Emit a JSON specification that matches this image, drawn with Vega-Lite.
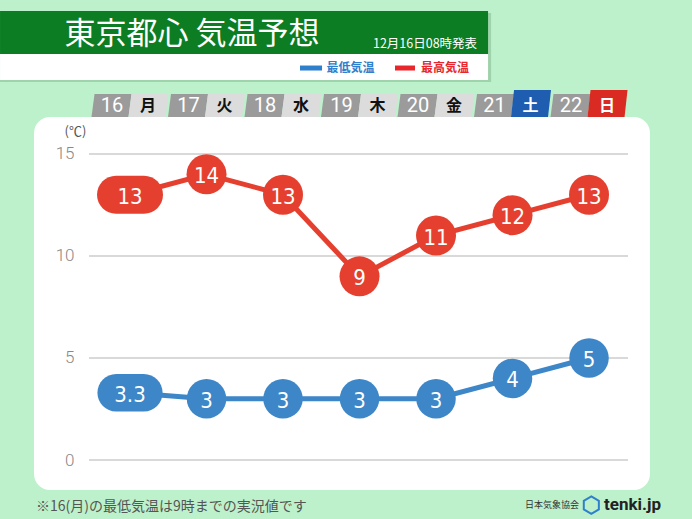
{
  "$schema": "https://vega.github.io/schema/vega-lite/v6.json",
  "width": 616,
  "height": 373,
  "autosize": {"type": "none"},
  "padding": {"left": 34, "top": 117, "right": 42, "bottom": 29},
  "background": "#bdf1cb",
  "config": {"view": {"fill": "white", "stroke": null, "cornerRadius": 16}},
  "resolve": {"axis": {"x": "independent", "y": "independent"}},
  "data": {"values": [
    {"day": 16, "wd": "月", "lo": 3.3, "hi": 13},
    {"day": 17, "wd": "火", "lo": 3, "hi": 14},
    {"day": 18, "wd": "水", "lo": 3, "hi": 13},
    {"day": 19, "wd": "木", "lo": 3, "hi": 9},
    {"day": 20, "wd": "金", "lo": 3, "hi": 11},
    {"day": 21, "wd": "土", "lo": 4, "hi": 12},
    {"day": 22, "wd": "日", "lo": 5, "hi": 13}
  ]},
  "layer": [
    {
      "data": {"values": [{}]},
      "mark": {"type": "rect", "color": "#9fd3ab"},
      "encoding": {
        "x": {"datum": 14.301, "type": "quantitative", "scale": {"domain": [14.745, 22.797], "nice": false, "zero": false}, "axis": null},
        "x2": {"datum": 20.72},
        "y": {"datum": 21.908, "type": "quantitative", "scale": {"domain": [-1.47, 16.81], "nice": false, "zero": false}, "axis": null},
        "y2": {"datum": 18.526}
      }
    },
    {
      "data": {"values": [{}]},
      "mark": {"type": "rect", "color": "#0c7d22"},
      "encoding": {
        "x": {"datum": 14.301, "type": "quantitative", "scale": {"domain": [14.745, 22.797], "nice": false, "zero": false}, "axis": null},
        "x2": {"datum": 20.68},
        "y": {"datum": 22.006, "type": "quantitative", "scale": {"domain": [-1.47, 16.81], "nice": false, "zero": false}, "axis": null},
        "y2": {"datum": 19.898}
      }
    },
    {
      "data": {"values": [{}]},
      "mark": {"type": "rect", "color": "#ffffff"},
      "encoding": {
        "x": {"datum": 14.301, "type": "quantitative", "scale": {"domain": [14.745, 22.797], "nice": false, "zero": false}, "axis": null},
        "x2": {"datum": 20.68},
        "y": {"datum": 19.898, "type": "quantitative", "scale": {"domain": [-1.47, 16.81], "nice": false, "zero": false}, "axis": null},
        "y2": {"datum": 18.624}
      }
    },
    {
      "data": {"values": [{}]},
      "mark": {"type": "text", "text": "東京都心 気温予想", "color": "#ffffff", "font": "Noto Sans CJK JP", "fontSize": 31, "fontWeight": "normal", "align": "center", "baseline": "middle"},
      "encoding": {
        "x": {"datum": 16.81, "type": "quantitative", "scale": {"domain": [14.745, 22.797], "nice": false, "zero": false}, "axis": null},
        "y": {"datum": 20.83, "type": "quantitative", "scale": {"domain": [-1.47, 16.81], "nice": false, "zero": false}, "axis": null}
      }
    },
    {
      "data": {"values": [{}]},
      "mark": {"type": "text", "text": "12月16日08時発表", "color": "#ffffff", "font": "Noto Sans CJK JP", "fontSize": 12.5, "align": "center", "baseline": "middle"},
      "encoding": {
        "x": {"datum": 19.856, "type": "quantitative", "scale": {"domain": [14.745, 22.797], "nice": false, "zero": false}, "axis": null},
        "y": {"datum": 20.39, "type": "quantitative", "scale": {"domain": [-1.47, 16.81], "nice": false, "zero": false}, "axis": null}
      }
    },
    {
      "data": {"values": [{}]},
      "mark": {"type": "rule", "color": "#2f80cc", "strokeWidth": 5},
      "encoding": {
        "x": {"datum": 18.222, "type": "quantitative", "scale": {"domain": [14.745, 22.797], "nice": false, "zero": false}, "axis": null},
        "x2": {"datum": 18.51},
        "y": {"datum": 19.21, "type": "quantitative", "scale": {"domain": [-1.47, 16.81], "nice": false, "zero": false}, "axis": null}
      }
    },
    {
      "data": {"values": [{}]},
      "mark": {"type": "rule", "color": "#e8262c", "strokeWidth": 5},
      "encoding": {
        "x": {"datum": 19.464, "type": "quantitative", "scale": {"domain": [14.745, 22.797], "nice": false, "zero": false}, "axis": null},
        "x2": {"datum": 19.725},
        "y": {"datum": 19.21, "type": "quantitative", "scale": {"domain": [-1.47, 16.81], "nice": false, "zero": false}, "axis": null}
      }
    },
    {
      "data": {"values": [{}]},
      "mark": {"type": "text", "text": "最低気温", "color": "#2f80cc", "font": "Noto Sans CJK JP", "fontSize": 12, "fontWeight": "bold", "align": "center", "baseline": "middle"},
      "encoding": {
        "x": {"datum": 18.882, "type": "quantitative", "scale": {"domain": [14.745, 22.797], "nice": false, "zero": false}, "axis": null},
        "y": {"datum": 19.21, "type": "quantitative", "scale": {"domain": [-1.47, 16.81], "nice": false, "zero": false}, "axis": null}
      }
    },
    {
      "data": {"values": [{}]},
      "mark": {"type": "text", "text": "最高気温", "color": "#e8262c", "font": "Noto Sans CJK JP", "fontSize": 12, "fontWeight": "bold", "align": "center", "baseline": "middle"},
      "encoding": {
        "x": {"datum": 20.118, "type": "quantitative", "scale": {"domain": [14.745, 22.797], "nice": false, "zero": false}, "axis": null},
        "y": {"datum": 19.21, "type": "quantitative", "scale": {"domain": [-1.47, 16.81], "nice": false, "zero": false}, "axis": null}
      }
    },
    {
      "mark": {"type": "point", "filled": true, "opacity": 1, "size": 1600, "color": "#9b9b9b", "xOffset": -18.5, "shape": "M-0.85 -0.575 L1 -0.575 L0.85 0.575 L-1 0.575 Z"},
      "encoding": {
        "x": {"field": "day", "type": "quantitative", "scale": {"domain": [14.745, 22.797], "nice": false, "zero": false}, "axis": null},
        "y": {"datum": 17.374, "type": "quantitative", "scale": {"domain": [-1.47, 16.81], "nice": false, "zero": false}, "axis": null}
      }
    },
    {
      "mark": {"type": "point", "filled": true, "opacity": 1, "size": 1600, "xOffset": 18.5},
      "encoding": {
        "x": {"field": "day", "type": "quantitative", "scale": {"domain": [14.745, 22.797], "nice": false, "zero": false}, "axis": null},
        "y": {"datum": 17.374, "type": "quantitative", "scale": {"domain": [-1.47, 16.81], "nice": false, "zero": false}, "axis": null},
        "color": {"condition": [{"test": "datum.wd === '土'", "value": "#1f5db0"}, {"test": "datum.wd === '日'", "value": "#d92b22"}], "value": "#dcdcdc"},
        "shape": {"condition": {"test": "datum.wd === '土' || datum.wd === '日'", "value": "M-0.85 -0.775 L1 -0.775 L0.85 0.575 L-1 0.575 Z"}, "value": "M-0.85 -0.575 L1 -0.575 L0.85 0.575 L-1 0.575 Z"}
      }
    },
    {
      "mark": {"type": "text", "color": "#ffffff", "font": "Roboto", "fontSize": 20, "xOffset": -18, "align": "center", "baseline": "middle", "dy": 1},
      "encoding": {
        "x": {"field": "day", "type": "quantitative", "scale": {"domain": [14.745, 22.797], "nice": false, "zero": false}, "axis": null},
        "y": {"datum": 17.374, "type": "quantitative", "scale": {"domain": [-1.47, 16.81], "nice": false, "zero": false}, "axis": null},
        "text": {"field": "day", "type": "nominal"}
      }
    },
    {
      "mark": {"type": "text", "font": "Noto Sans CJK JP", "fontSize": 16, "fontWeight": "bold", "xOffset": 18, "align": "center", "baseline": "middle", "dy": 1},
      "encoding": {
        "x": {"field": "day", "type": "quantitative", "scale": {"domain": [14.745, 22.797], "nice": false, "zero": false}, "axis": null},
        "y": {"datum": 17.374, "type": "quantitative", "scale": {"domain": [-1.47, 16.81], "nice": false, "zero": false}, "axis": null},
        "text": {"field": "wd", "type": "nominal"},
        "color": {"condition": {"test": "datum.wd === '土' || datum.wd === '日'", "value": "#ffffff"}, "value": "#111111"}
      }
    },
    {
      "data": {"values": [{"g": 0}, {"g": 5}, {"g": 10}, {"g": 15}]},
      "mark": {"type": "rule", "color": "#cccccc", "strokeWidth": 1.5},
      "encoding": {
        "x": {"datum": 15.464, "type": "quantitative", "scale": {"domain": [14.745, 22.797], "nice": false, "zero": false}, "axis": null},
        "x2": {"datum": 22.51},
        "y": {"field": "g", "type": "quantitative", "scale": {"domain": [-1.47, 16.81], "nice": false, "zero": false},
          "axis": {"values": [0, 5, 10, 15], "title": "(℃)", "domain": false, "ticks": false, "grid": false, "labelPadding": -40, "labelColor": "#888888", "labelFontSize": 17, "labelFont": "Roboto", "labelFontWeight": 300, "titleAngle": 0, "titleX": 41, "titleY": 14, "titleAlign": "center", "titleBaseline": "middle", "titleFontSize": 13, "titleFontWeight": "normal", "titleColor": "#555555", "titleFont": "Noto Sans CJK JP"}}
      }
    },
    {
      "mark": {"type": "line", "color": "#e5402f", "strokeWidth": 5},
      "encoding": {
        "x": {"field": "day", "type": "quantitative", "scale": {"domain": [14.745, 22.797], "nice": false, "zero": false}, "axis": null},
        "y": {"field": "hi", "type": "quantitative", "scale": {"domain": [-1.47, 16.81], "nice": false, "zero": false}, "axis": null}
      }
    },
    {
      "mark": {"type": "line", "color": "#3d87c9", "strokeWidth": 5},
      "encoding": {
        "x": {"field": "day", "type": "quantitative", "scale": {"domain": [14.745, 22.797], "nice": false, "zero": false}, "axis": null},
        "y": {"field": "lo", "type": "quantitative", "scale": {"domain": [-1.47, 16.81], "nice": false, "zero": false}, "axis": null}
      }
    },
    {
      "mark": {"type": "point", "filled": true, "opacity": 1, "size": 1600, "color": "#e5402f"},
      "encoding": {
        "x": {"field": "day", "type": "quantitative", "scale": {"domain": [14.745, 22.797], "nice": false, "zero": false}, "axis": null},
        "y": {"field": "hi", "type": "quantitative", "scale": {"domain": [-1.47, 16.81], "nice": false, "zero": false}, "axis": null},
        "shape": {"condition": {"test": "datum.day === 16", "value": "M-0.7 -0.95 L0.7 -0.95 A0.95 0.95 0 0 1 0.7 0.95 L-0.7 0.95 A0.95 0.95 0 0 1 -0.7 -0.95 Z"}, "value": "circle"}
      }
    },
    {
      "mark": {"type": "point", "filled": true, "opacity": 1, "size": 1560, "color": "#3d87c9"},
      "encoding": {
        "x": {"field": "day", "type": "quantitative", "scale": {"domain": [14.745, 22.797], "nice": false, "zero": false}, "axis": null},
        "y": {"field": "lo", "type": "quantitative", "scale": {"domain": [-1.47, 16.81], "nice": false, "zero": false}, "axis": null},
        "shape": {"condition": {"test": "datum.day === 16", "value": "M-0.7 -0.95 L0.7 -0.95 A0.95 0.95 0 0 1 0.7 0.95 L-0.7 0.95 A0.95 0.95 0 0 1 -0.7 -0.95 Z"}, "value": "circle"}
      }
    },
    {
      "mark": {"type": "text", "color": "#ffffff", "font": "DejaVu Sans Condensed, Liberation Sans Narrow, Roboto", "fontSize": 22, "align": "center", "baseline": "middle", "dy": 2},
      "encoding": {
        "x": {"field": "day", "type": "quantitative", "scale": {"domain": [14.745, 22.797], "nice": false, "zero": false}, "axis": null},
        "y": {"field": "hi", "type": "quantitative", "scale": {"domain": [-1.47, 16.81], "nice": false, "zero": false}, "axis": null},
        "text": {"field": "hi", "type": "nominal"}
      }
    },
    {
      "mark": {"type": "text", "color": "#ffffff", "font": "DejaVu Sans Condensed, Liberation Sans Narrow, Roboto", "fontSize": 22, "align": "center", "baseline": "middle", "dy": 2},
      "encoding": {
        "x": {"field": "day", "type": "quantitative", "scale": {"domain": [14.745, 22.797], "nice": false, "zero": false}, "axis": null},
        "y": {"field": "lo", "type": "quantitative", "scale": {"domain": [-1.47, 16.81], "nice": false, "zero": false}, "axis": null},
        "text": {"field": "lo", "type": "nominal"}
      }
    },
    {
      "data": {"values": [{}]},
      "mark": {"type": "text", "text": "※16(月)の最低気温は9時までの実況値です", "color": "#555555", "font": "Noto Sans CJK JP", "fontSize": 14, "align": "left", "baseline": "middle"},
      "encoding": {
        "x": {"datum": 14.771, "type": "quantitative", "scale": {"domain": [14.745, 22.797], "nice": false, "zero": false}, "axis": null},
        "y": {"datum": -2.308, "type": "quantitative", "scale": {"domain": [-1.47, 16.81], "nice": false, "zero": false}, "axis": null}
      }
    },
    {
      "data": {"values": [{}]},
      "mark": {"type": "text", "text": "日本気象協会", "color": "#333333", "font": "Noto Sans CJK JP", "fontSize": 9, "align": "center", "baseline": "middle"},
      "encoding": {
        "x": {"datum": 21.516, "type": "quantitative", "scale": {"domain": [14.745, 22.797], "nice": false, "zero": false}, "axis": null},
        "y": {"datum": -2.21, "type": "quantitative", "scale": {"domain": [-1.47, 16.81], "nice": false, "zero": false}, "axis": null}
      }
    },
    {
      "data": {"values": [{}]},
      "mark": {"type": "point", "filled": false, "opacity": 1, "size": 300, "color": "#2f80cc", "strokeWidth": 2, "shape": "M0 -1 L0.87 -0.5 L0.87 0.5 L0 1 L-0.87 0.5 L-0.87 -0.5 Z"},
      "encoding": {
        "x": {"datum": 22.03, "type": "quantitative", "scale": {"domain": [14.745, 22.797], "nice": false, "zero": false}, "axis": null},
        "y": {"datum": -2.21, "type": "quantitative", "scale": {"domain": [-1.47, 16.81], "nice": false, "zero": false}, "axis": null}
      }
    },
    {
      "data": {"values": [{}]},
      "mark": {"type": "text", "text": "tenki.jp", "color": "#222222", "font": "Roboto", "fontSize": 17, "fontWeight": "bold", "align": "left", "baseline": "middle"},
      "encoding": {
        "x": {"datum": 22.196, "type": "quantitative", "scale": {"domain": [14.745, 22.797], "nice": false, "zero": false}, "axis": null},
        "y": {"datum": -2.21, "type": "quantitative", "scale": {"domain": [-1.47, 16.81], "nice": false, "zero": false}, "axis": null}
      }
    }
  ]
}
